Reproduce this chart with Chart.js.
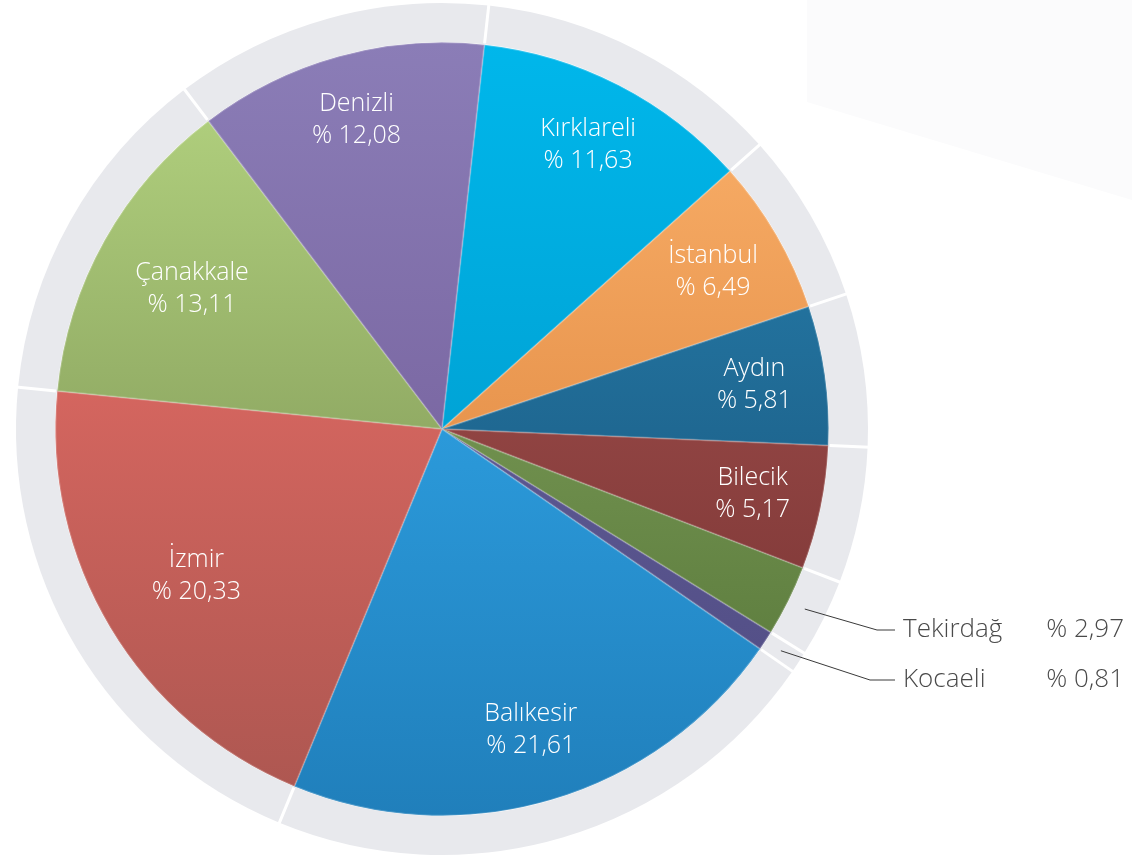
<!DOCTYPE html>
<html>
<head>
<meta charset="utf-8">
<script src="https://cdn.jsdelivr.net/npm/chart.js@4/dist/chart.umd.min.js"></script>
<style>
  html, body { margin: 0; padding: 0; background: #ffffff; }
  #wrap { width: 1132px; height: 859px; }
</style>
</head>
<body>
<div id="wrap"><canvas id="c" width="1132" height="859"></canvas></div>
<script>
// ---- data (clockwise from top) ----
const provinces = ['Kırklareli', 'İstanbul', 'Aydın', 'Bilecik', 'Tekirdağ', 'Kocaeli', 'Balıkesir', 'İzmir', 'Çanakkale', 'Denizli'];
const shares = [11.63, 6.49, 5.81, 5.17, 2.97, 0.81, 21.61, 20.33, 13.11, 12.08];
const outsideLabelled = ['Tekirdağ', 'Kocaeli'];

// ---- styles ----
const lightColors = ['#00b7eb', '#fcb36d', '#2986b5', '#ae5755', '#8eae67', '#6a66a4', '#36b4f9', '#f6726b', '#b6d682', '#8b7db7'];
const darkColors  = ['#0090c1', '#d4772f', '#154a6f', '#72302f', '#527235', '#4e4a80', '#207fbb', '#ab5650', '#6d8147', '#6b5490'];
const labelRadiusFrac = [0.825, 0.81, 0.815, 0.82, 0, 0, 0.81, 0.74, 0.74, 0.83];
const outsideLabelY = { 'Tekirdağ': 630, 'Kocaeli': 680 };
const outsideBendX = { 'Tekirdağ': 877, 'Kocaeli': 870 };

function fmt(v) { return '% ' + v.toFixed(2).replace('.', ','); }

function sliceGradient(ctx) {
  const chart = ctx.chart;
  const area = chart.chartArea;
  const i = ctx.dataIndex;
  if (!area) return lightColors[i];
  const g = chart.ctx.createLinearGradient(0, area.top + 39, 0, area.bottom - 39);
  g.addColorStop(0, lightColors[i]);
  g.addColorStop(1, darkColors[i]);
  return g;
}

const bgPlugin = {
  id: 'bg',
  beforeDraw(chart) {
    const c = chart.ctx;
    c.save();
    c.fillStyle = '#ffffff';
    c.fillRect(0, 0, chart.width, chart.height);
    c.fillStyle = '#fbfbfc';
    c.beginPath();
    c.moveTo(807, 0);
    c.lineTo(1132, 0);
    c.lineTo(1132, 200);
    c.lineTo(807, 102);
    c.closePath();
    c.fill();
    c.restore();
  }
};

const labelPlugin = {
  id: 'sliceLabels',
  afterDatasetsDraw(chart) {
    const c = chart.ctx;
    // ring separators
    const ring = chart.getDatasetMeta(0).data;
    c.save();
    c.strokeStyle = '#ffffff';
    c.lineWidth = 3;
    ring.forEach(arc => {
      const a = arc.startAngle;
      c.beginPath();
      c.moveTo(arc.x + Math.cos(a) * (arc.innerRadius + 1), arc.y + Math.sin(a) * (arc.innerRadius + 1));
      c.lineTo(arc.x + Math.cos(a) * (arc.outerRadius + 2), arc.y + Math.sin(a) * (arc.outerRadius + 2));
      c.stroke();
    });
    c.restore();

    const pie = chart.getDatasetMeta(1).data;
    pie.forEach((arc, i) => {
      const name = provinces[i];
      const mid = (arc.startAngle + arc.endAngle) / 2;
      c.save();
      if (outsideLabelled.includes(name)) {
        const r0 = arc.outerRadius + 18;
        const sx = arc.x + Math.cos(mid) * r0;
        const sy = arc.y + Math.sin(mid) * r0;
        const ty = outsideLabelY[name];
        c.strokeStyle = '#3a3a3a';
        c.lineWidth = 1;
        c.beginPath();
        c.moveTo(sx, sy);
        c.lineTo(outsideBendX[name], ty);
        c.lineTo(895, ty);
        c.stroke();
        c.fillStyle = '#4a4a4a';
        c.font = '300 26px "Open Sans", "DejaVu Sans", sans-serif';
        c.textBaseline = 'middle';
        c.textAlign = 'left';
        c.fillText(name, 903, ty);
        c.textAlign = 'right';
        c.fillText(fmt(shares[i]), 1124, ty);
      } else {
        const r = arc.outerRadius * labelRadiusFrac[i];
        const x = arc.x + Math.cos(mid) * r;
        const y = arc.y + Math.sin(mid) * r;
        c.fillStyle = '#ffffff';
        c.font = '300 25px "Open Sans", "DejaVu Sans", sans-serif';
        c.textAlign = 'center';
        c.textBaseline = 'middle';
        c.fillText(name, x, y - 16);
        c.fillText(fmt(shares[i]), x, y + 16);
      }
      c.restore();
    });
  }
};

new Chart(document.getElementById('c'), {
  type: 'pie',
  data: {
    labels: provinces,
    datasets: [
      {
        data: shares,
        backgroundColor: '#e8e9ed',
        borderWidth: 0,
        hoverBorderWidth: 0,
        hoverOffset: 0,
        weight: 39
      },
      {
        data: shares,
        backgroundColor: sliceGradient,
        hoverBackgroundColor: sliceGradient,
        borderColor: 'rgba(255,255,255,0.22)',
        borderWidth: 1,
        borderAlign: 'inner',
        hoverBorderWidth: 1,
        hoverOffset: 0,
        weight: 387
      }
    ]
  },
  options: {
    responsive: false,
    animation: false,
    events: [],
    rotation: 6.3,
    layout: { padding: { left: 16, top: 3, right: 264, bottom: 4 } },
    plugins: {
      legend: { display: false },
      tooltip: { enabled: false }
    }
  },
  plugins: [bgPlugin, labelPlugin]
});
</script>
</body>
</html>
